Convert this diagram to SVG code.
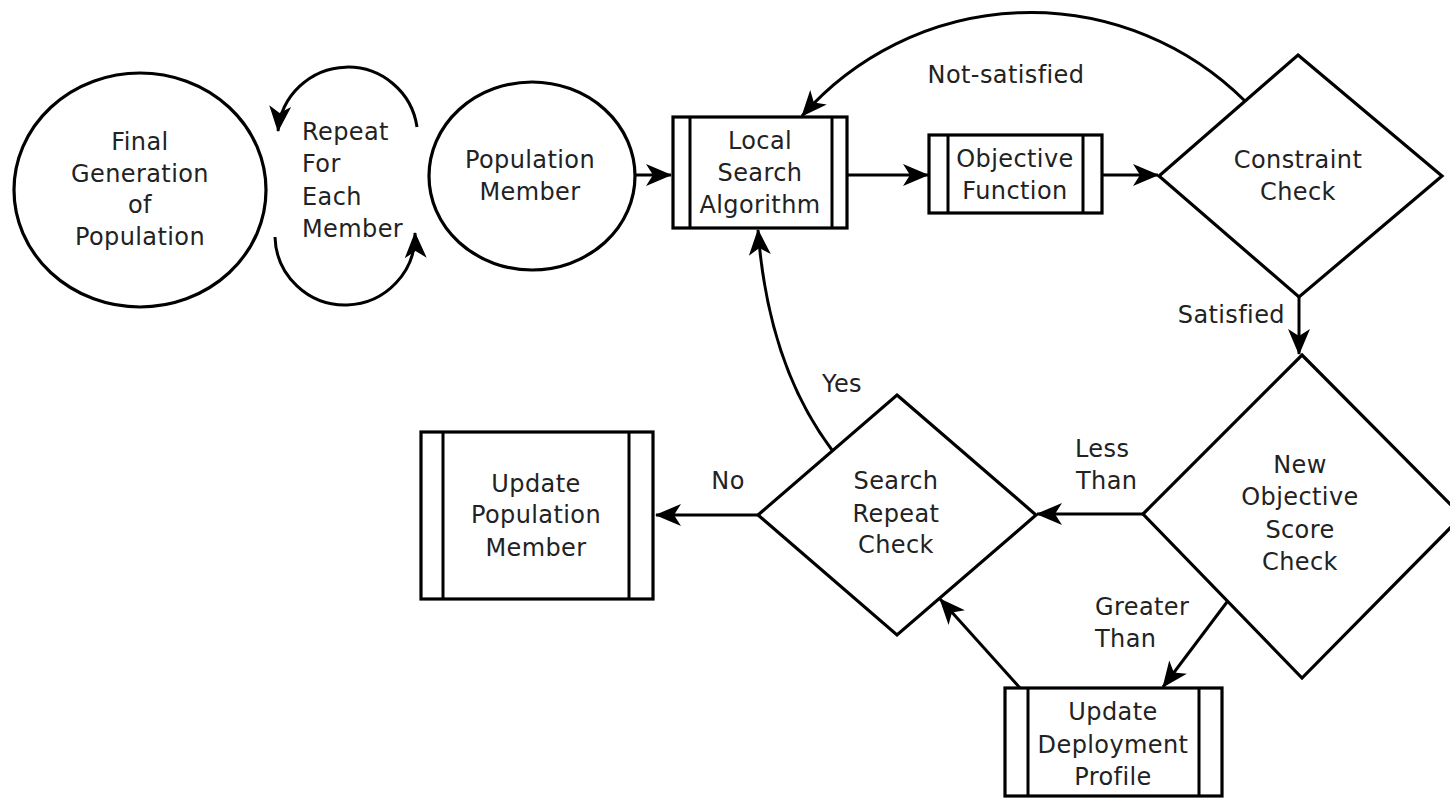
<svg xmlns="http://www.w3.org/2000/svg" width="1450" height="799" viewBox="0 0 1450 799">
<style>
.sh{fill:#fff;stroke:#000;stroke-width:3.2}
.ln{fill:none;stroke:#000;stroke-width:3}
.lnm{fill:none;stroke:#000;stroke-width:3;marker-end:url(#ah)}
text{font-family:"DejaVu Sans","Liberation Sans",sans-serif;font-size:24px;fill:#222;letter-spacing:0.4px}
.c{text-anchor:middle}
</style>
<defs>
<marker id="ah" viewBox="-28 -12 30 24" refX="0" refY="0" markerWidth="30" markerHeight="24" markerUnits="userSpaceOnUse" orient="auto">
<path d="M1,0 L-25,-11 L-18,0 L-25,11 Z" fill="#000"/>
</marker>
</defs>
<rect width="1450" height="799" fill="#fff"/>
<g id="connectors">
<path class="lnm" d="M417,127 A70,70 0 0 0 278,131"/>
<path class="lnm" d="M275,237 A68,68 0 0 0 415,233"/>
<path class="lnm" d="M635,175 L671,175"/>
<path class="lnm" d="M847,175 L928,175"/>
<path class="lnm" d="M1102,175 L1158,175"/>
<path class="lnm" d="M1245,101 A304,304 0 0 0 802,116"/>
<path class="lnm" d="M1299,297 L1299,354"/>
<path class="lnm" d="M1143,514 L1037,514"/>
<path class="lnm" d="M1227,602 L1163,687"/>
<path class="lnm" d="M1020,688 L940,599"/>
<path class="lnm" d="M832,450 Q768,365 758,230"/>
<path class="lnm" d="M758,515 L656,515"/>
<text class="c" x="1006" y="83">Not-satisfied</text>
<text x="1285" y="323" text-anchor="end">Satisfied</text>
<text x="1075" y="457">Less</text>
<text x="1076" y="489">Than</text>
<text x="1095" y="615">Greater</text>
<text x="1095" y="647">Than</text>
<text class="c" x="842" y="392">Yes</text>
<text class="c" x="728" y="489">No</text>
<text x="302" y="140">Repeat</text>
<text x="302" y="172">For</text>
<text x="302" y="205">Each</text>
<text x="302" y="237">Member</text>
</g>
<g id="final-generation">
<ellipse class="sh" cx="140" cy="190" rx="126" ry="117"/>
<text class="c" x="140" y="150">Final</text>
<text class="c" x="140" y="182">Generation</text>
<text class="c" x="140" y="213">of</text>
<text class="c" x="140" y="245">Population</text>
</g>
<g id="population-member">
<ellipse class="sh" cx="532" cy="176" rx="103" ry="94"/>
<text class="c" x="530" y="168">Population</text>
<text class="c" x="530" y="200">Member</text>
</g>
<g id="local-search">
<rect class="sh" x="673" y="117" width="174" height="111"/>
<path class="ln" d="M690,117 V228 M832,117 V228" stroke-width="3.2"/>
<text class="c" x="760" y="149">Local</text>
<text class="c" x="760" y="181">Search</text>
<text class="c" x="760" y="213">Algorithm</text>
</g>
<g id="objective-function">
<rect class="sh" x="929" y="135" width="173" height="78"/>
<path class="ln" d="M948,135 V213 M1083,135 V213" stroke-width="3.2"/>
<text class="c" x="1015" y="167">Objective</text>
<text class="c" x="1015" y="199">Function</text>
</g>
<g id="constraint-check">
<path class="sh" d="M1298,55 L1442,176 L1299,297 L1159,176 Z"/>
<text class="c" x="1298" y="168">Constraint</text>
<text class="c" x="1298" y="200">Check</text>
</g>
<g id="new-objective-score-check">
<path class="sh" d="M1302,355 L1462,516 L1302,678 L1143,514 Z"/>
<text class="c" x="1300" y="473">New</text>
<text class="c" x="1300" y="505">Objective</text>
<text class="c" x="1300" y="538">Score</text>
<text class="c" x="1300" y="570">Check</text>
</g>
<g id="search-repeat-check">
<path class="sh" d="M897,395 L1036,515 L897,635 L758,515 Z"/>
<text class="c" x="896" y="489">Search</text>
<text class="c" x="896" y="522">Repeat</text>
<text class="c" x="896" y="553">Check</text>
</g>
<g id="update-population-member">
<rect class="sh" x="421" y="432" width="232" height="167"/>
<path class="ln" d="M443,432 V599 M629,432 V599" stroke-width="3.2"/>
<text class="c" x="536" y="492">Update</text>
<text class="c" x="536" y="523">Population</text>
<text class="c" x="536" y="556">Member</text>
</g>
<g id="update-deployment-profile">
<rect class="sh" x="1005" y="688" width="217" height="108"/>
<path class="ln" d="M1028,688 V796 M1199,688 V796" stroke-width="3.2"/>
<text class="c" x="1113" y="720">Update</text>
<text class="c" x="1113" y="753">Deployment</text>
<text class="c" x="1113" y="785">Profile</text>
</g>
</svg>
